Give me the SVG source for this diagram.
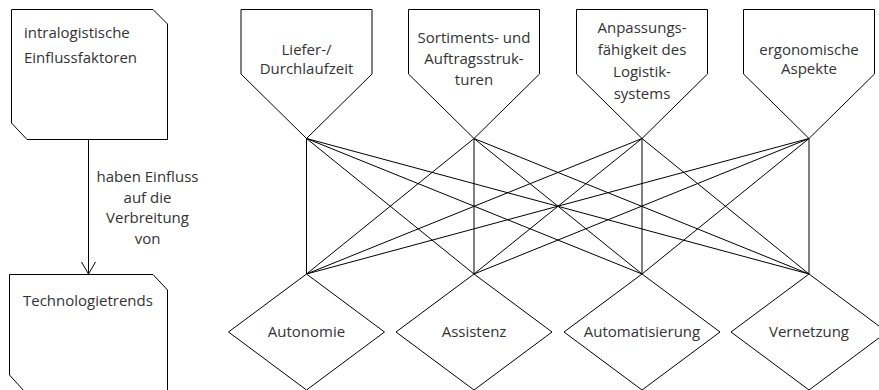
<svg xmlns="http://www.w3.org/2000/svg" width="879" height="390" viewBox="0 0 879 390">
  <style>
    .shape { fill: #ffffff; stroke: #000000; stroke-width: 1; }
    .wire { fill: none; stroke: #000000; stroke-width: 1; }
    text { font-family: "Open Sans", "Noto Sans", "Liberation Sans", sans-serif; font-size: 15px; fill: #333333; }
    .c { text-anchor: middle; }
  </style>
  <defs>
    <marker id="openArrow" markerWidth="16" markerHeight="16" refX="13" refY="8" orient="auto" markerUnits="userSpaceOnUse">
      <path d="M1,1 L13,8 L1,15" fill="none" stroke="#000000" stroke-width="1"/>
    </marker>
  </defs>

  <rect width="879" height="390" fill="#ffffff"/>

  <!-- cross links between influence factors and technology trends -->
  <g id="connectors">
    <g class="wire">
      <line x1="306.5" y1="138.5" x2="306.5" y2="274"/>
      <line x1="306.5" y1="138.5" x2="474" y2="274"/>
      <line x1="306.5" y1="138.5" x2="642" y2="274"/>
      <line x1="306.5" y1="138.5" x2="809" y2="274"/>
      <line x1="474" y1="138.5" x2="306.5" y2="274"/>
      <line x1="474" y1="138.5" x2="474" y2="274"/>
      <line x1="474" y1="138.5" x2="642" y2="274"/>
      <line x1="474" y1="138.5" x2="809" y2="274"/>
      <line x1="642" y1="138.5" x2="306.5" y2="274"/>
      <line x1="642" y1="138.5" x2="474" y2="274"/>
      <line x1="642" y1="138.5" x2="642" y2="274"/>
      <line x1="642" y1="138.5" x2="809" y2="274"/>
      <line x1="809" y1="138.5" x2="306.5" y2="274"/>
      <line x1="809" y1="138.5" x2="474" y2="274"/>
      <line x1="809" y1="138.5" x2="642" y2="274"/>
      <line x1="809" y1="138.5" x2="809" y2="274"/>
    </g>
    <!-- legend arrow -->
    <line class="wire" x1="88.5" y1="139" x2="88.5" y2="274" marker-end="url(#openArrow)"/>
    <g id="legend-label">
      <text class="c" x="147.5" y="182">haben Einfluss</text>
      <text class="c" x="147.5" y="202.5">auf die</text>
      <text class="c" x="147.5" y="223">Verbreitung</text>
      <text class="c" x="147.5" y="243.5">von</text>
    </g>
  </g>

  <!-- legend boxes -->
  <g id="legend-factors">
    <path class="shape" d="M11.5,9.5 H153 L167.5,24 V139.5 H27 L11.5,123 Z"/>
    <text x="24" y="37.5">intralogistische</text>
    <text x="24" y="63">Einflussfaktoren</text>
  </g>
  <g id="legend-trends">
    <path class="shape" d="M9.5,274.5 H153 L167.5,290 V392 H25 L9.5,375 Z"/>
    <text x="23" y="306">Technologietrends</text>
  </g>

  <!-- influence factors -->
  <g id="factor-lieferzeit">
    <path class="shape" d="M241,9.5 H372 V74 L306.5,138.5 L241,74 Z"/>
    <text class="c" x="306.5" y="55">Liefer-/</text>
    <text class="c" x="306.5" y="74">Durchlaufzeit</text>
  </g>
  <g id="factor-sortiment">
    <path class="shape" d="M408.5,9.5 H539.5 V74 L474,138.5 L408.5,74 Z"/>
    <text class="c" x="474" y="43">Sortiments- und</text>
    <text class="c" x="474" y="64">Auftragsstruk-</text>
    <text class="c" x="474" y="85">turen</text>
  </g>
  <g id="factor-anpassung">
    <path class="shape" d="M576.5,9.5 H707.5 V74 L642,138.5 L576.5,74 Z"/>
    <text class="c" x="642" y="33">Anpassungs-</text>
    <text class="c" x="642" y="55">fähigkeit des</text>
    <text class="c" x="642" y="77">Logistik-</text>
    <text class="c" x="642" y="99">systems</text>
  </g>
  <g id="factor-ergonomie">
    <path class="shape" d="M743.5,9.5 H874.5 V74 L809,138.5 L743.5,74 Z"/>
    <text class="c" x="809" y="55">ergonomische</text>
    <text class="c" x="809" y="74">Aspekte</text>
  </g>

  <!-- technology trends -->
  <g id="trend-autonomie">
    <path class="shape" d="M306.5,274 L384.5,332 L306.5,390 L228.5,332 Z"/>
    <text class="c" x="306.5" y="337">Autonomie</text>
  </g>
  <g id="trend-assistenz">
    <path class="shape" d="M474,274 L552,332 L474,390 L396,332 Z"/>
    <text class="c" x="474" y="337">Assistenz</text>
  </g>
  <g id="trend-automatisierung">
    <path class="shape" d="M642,274 L720,332 L642,390 L564,332 Z"/>
    <text class="c" x="642" y="337">Automatisierung</text>
  </g>
  <g id="trend-vernetzung">
    <path class="shape" d="M809,274 L887,332 L809,390 L731,332 Z"/>
    <text class="c" x="809" y="337">Vernetzung</text>
  </g>
</svg>
